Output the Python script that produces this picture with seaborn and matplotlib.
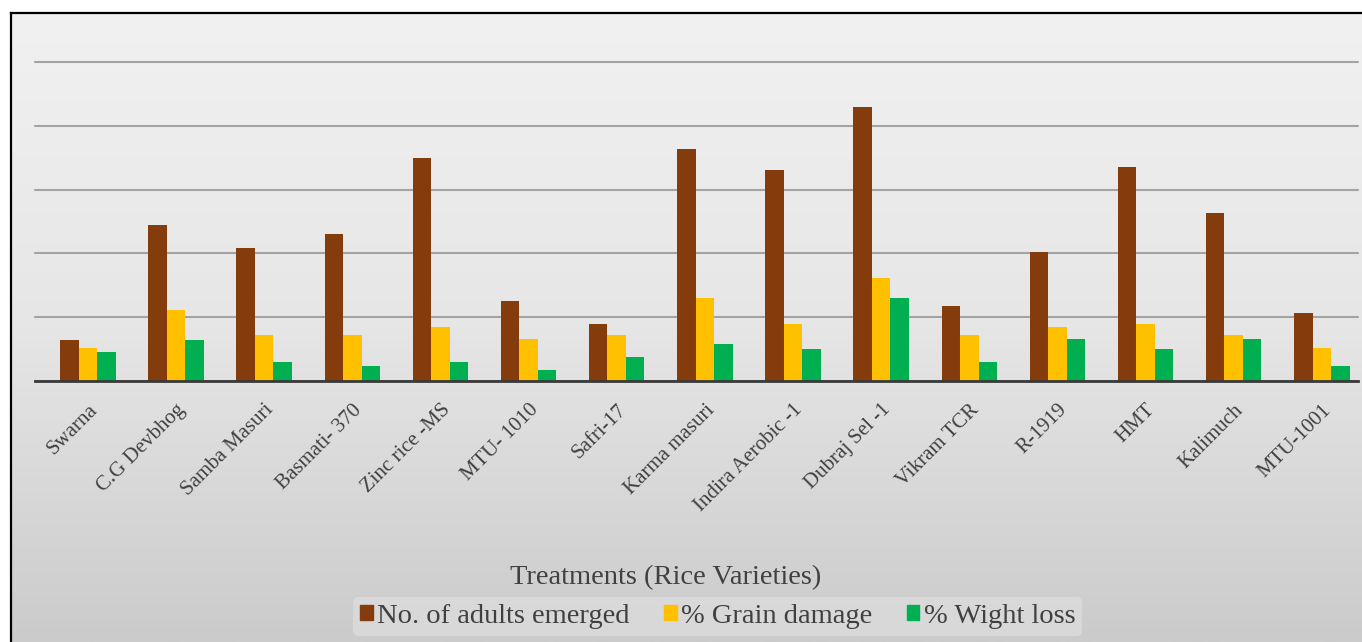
import numpy as np
import pandas as pd
import seaborn as sns
from matplotlib import pyplot as plt
from matplotlib.colors import LinearSegmentedColormap

# data (arbitrary units, gridline step = 5)
varieties = ["Swarna", "C.G Devbhog", "Samba Masuri", "Basmati- 370", "Zinc rice -MS",
             "MTU- 1010", "Safri-17", "Karma masuri", "Indira Aerobic -1", "Dubraj Sel -1",
             "Vikram TCR", "R-1919", "HMT", "Kalimuch", "MTU-1001"]
adults_emerged = [3.2, 12.2, 10.4, 11.5, 17.5, 6.3, 4.5, 18.2, 16.5, 21.5, 5.9, 10.1, 16.8, 13.2, 5.3]
grain_damage = [2.6, 5.6, 3.6, 3.6, 4.2, 3.3, 3.6, 6.5, 4.5, 8.1, 3.6, 4.2, 4.5, 3.6, 2.6]
weight_loss = [2.3, 3.2, 1.5, 1.2, 1.5, 0.9, 1.9, 2.9, 2.5, 6.5, 1.5, 3.3, 2.5, 3.3, 1.2]
series_names = ["No. of adults emerged", "% Grain damage", "% Wight loss"]
colors = ["#843c0c", "#ffc000", "#00b050"]

df = pd.DataFrame({"Variety": varieties * 3,
                   "Series": np.repeat(series_names, len(varieties)),
                   "Value": adults_emerged + grain_damage + weight_loss})

sns.set_style("white")
plt.rcParams["font.family"] = ["Liberation Serif", "DejaVu Serif"]

fig = plt.figure(figsize=(13.62, 6.42), dpi=100)
fig.patch.set_facecolor("white")

# framed gradient background
bg = fig.add_axes([11/1362, 0, 1 - 11/1362, (642-13)/642], zorder=-1)
cmap = LinearSegmentedColormap.from_list("bg", ["#cbcbcb", "#e6e6e6", "#f1f1f1"])
bg.imshow(np.linspace(0, 1, 256).reshape(-1, 1), cmap=cmap, aspect="auto",
          extent=[0, 1, 0, 1], origin="lower")
bg.set_xticks([])
bg.set_yticks([])
for side in ["right", "bottom"]:
    bg.spines[side].set_visible(False)
for side in ["top", "left"]:
    bg.spines[side].set_color("black")
    bg.spines[side].set_linewidth(1.6)

ax = fig.add_axes([35/1362, (642-381)/642, (1358-35)/1362, (381-62)/642])
ax.set_facecolor("none")
sns.barplot(data=df, x="Variety", y="Value", hue="Series", hue_order=series_names,
            palette=colors, width=0.63, gap=0, saturation=1, linewidth=0,
            ax=ax, legend=False)

ax.set_ylim(0, 25)
ax.set_xlim(-0.6, 14.41)
ax.set_yticks([0, 5, 10, 15, 20, 25])
ax.set_yticklabels([])
ax.yaxis.grid(True, color="#a3a3a3", linewidth=1.5)
for gl in ax.yaxis.get_gridlines():
    gl.set_clip_on(False)
ax.set_axisbelow(True)
ax.tick_params(axis="both", length=0)
for side in ["top", "right", "left"]:
    ax.spines[side].set_visible(False)
ax.spines["bottom"].set_color("#3a3a3a")
ax.spines["bottom"].set_linewidth(2)
ax.set_xlabel("")
ax.set_ylabel("")
plt.setp(ax.get_xticklabels(), rotation=45, ha="right", rotation_mode="anchor",
         fontsize=15, color="#404040")
ax.tick_params(axis="x", pad=14)

fig.text(0.489, 0.101, "Treatments (Rice Varieties)", ha="center", va="center",
         fontsize=20.5, color="#404040")

handles = [plt.Rectangle((0, 0), 1, 1, color=c) for c in colors]
leg = fig.legend(handles, series_names, loc="center", bbox_to_anchor=(0.527, 0.04),
                 ncol=3, frameon=True, fontsize=20.5, handlelength=0.45, handleheight=0.45,
                 handletextpad=0.15, columnspacing=1.2, borderpad=0.25)
leg.get_frame().set_facecolor("#dedede")
leg.get_frame().set_edgecolor("none")
leg.get_frame().set_alpha(0.7)
for t in leg.get_texts():
    t.set_color("#404040")

plt.savefig("out.png", dpi=100)
plt.close()
